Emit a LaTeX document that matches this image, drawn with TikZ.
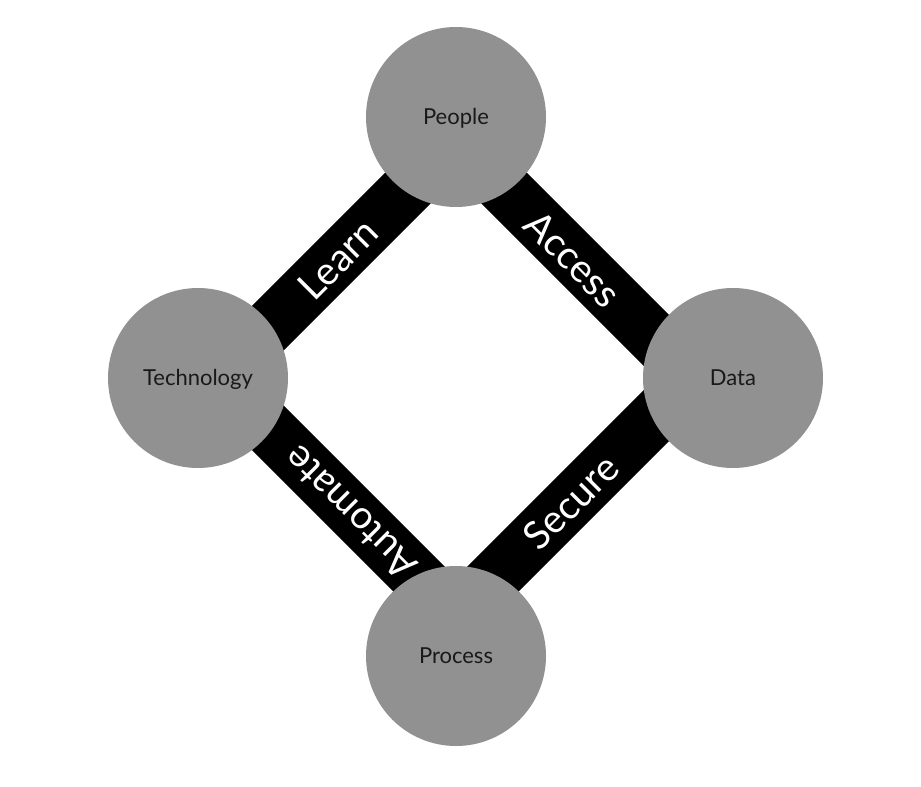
\documentclass[tikz,border=0pt]{standalone}
\usepackage{fontspec}
\setmainfont{Lato}
\definecolor{circgray}{HTML}{919191}
\begin{document}
\begin{tikzpicture}[x=1pt,y=-1pt,
  hub/.style={circle,fill=circgray,draw=none,minimum size=180pt,inner sep=0pt,font=\fontsize{22}{26}\selectfont,text=black!90},
  hublabel/.style={font=\fontsize{22}{26}\selectfont,text=black!90,inner sep=0pt},
  bar/.style={line width=54pt,line join=miter,draw=black},
  barlabel/.style={text=white,font=\fontsize{39}{44}\selectfont,inner sep=0pt}]
\useasboundingbox (0,0) rectangle (921,787);
\fill[white] (0,0) rectangle (921,787);
% bar corners (square rotated 45 degrees)
\coordinate (cT) at (456,140);
\coordinate (cR) at (694,378);
\coordinate (cB) at (456,616);
\coordinate (cL) at (218,378);
\draw[bar] (cT) -- (cR) -- (cB) -- (cL) -- cycle;
% labels on bars
\node[barlabel,rotate=45] (learn) at (338,259) {Learn};
\node[barlabel,rotate=-45] (access) at (573,259) {Access};
\node[barlabel,rotate=45] (secure) at (571,502) {Secure};
\node[barlabel,rotate=135] (automate) at (350,513) {Automate};
% circles
\node[hub] (people) at (456,117) {};
\node[hub] (tech) at (198,378) {};
\node[hub] (data) at (733,378) {};
\node[hub] (process) at (456,656) {};
\node[hublabel,anchor=base] at ([yshift=-7pt]people.center) {People};
\node[hublabel,anchor=base] at ([yshift=-7pt]tech.center) {Technology};
\node[hublabel,anchor=base] at ([yshift=-7pt]data.center) {Data};
\node[hublabel,anchor=base] at ([yshift=-7pt]process.center) {Process};
\end{tikzpicture}
\end{document}
